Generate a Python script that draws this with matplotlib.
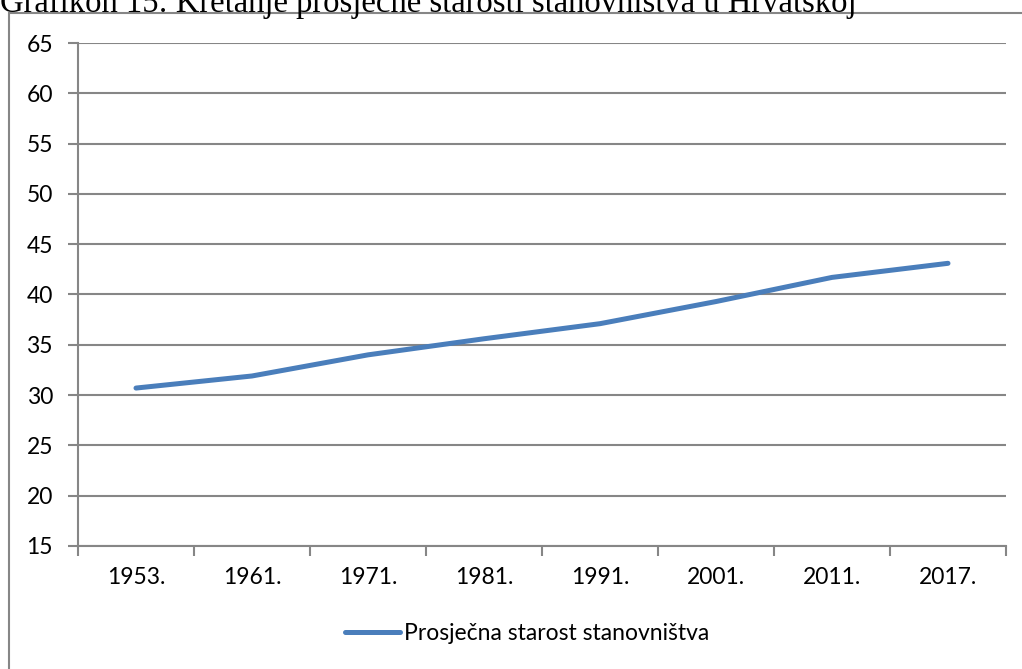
import matplotlib.pyplot as plt
import numpy as np
from matplotlib.patches import Rectangle

godine = ['1953.', '1961.', '1971.', '1981.', '1991.', '2001.', '2011.', '2017.']
starost = [30.7, 31.9, 34.0, 35.6, 37.1, 39.3, 41.7, 43.1]
y_ticks = [15, 20, 25, 30, 35, 40, 45, 50, 55, 60, 65]

W, H = 1022, 669
gray = '#868686'
blue = '#4a7ebb'

fig = plt.figure(figsize=(W / 100, H / 100), dpi=100)
ax = fig.add_axes([78 / W, 1 - 546 / H, (1006 - 78) / W, (546 - 43) / H])

# vanjski okvir grafikona (desno i dolje izlazi iz slike)
fig.patches.append(Rectangle((9 / W, -0.05), 1.1, 1 - 13 / H + 0.05,
                             transform=fig.transFigure, fill=False,
                             edgecolor=gray, lw=1.5))

x = np.arange(len(godine))
line, = ax.plot(x, starost, color=blue, lw=3.6, solid_capstyle='round',
                solid_joinstyle='round', label='Prosječna starost stanovništva')

ax.set_xlim(-0.5, len(godine) - 0.5)
ax.set_ylim(15, 65)
ax.set_yticks(y_ticks)
ax.set_xticks(np.arange(-0.5, len(godine)))
ax.set_xticklabels([])
ax.set_xticks(x, minor=True)
ax.set_xticklabels(godine, minor=True)

ax.grid(axis='y', color=gray, lw=1.5)
ax.set_axisbelow(True)
for s in ['top', 'right']:
    ax.spines[s].set_visible(False)
for s in ['left', 'bottom']:
    ax.spines[s].set_color(gray)
    ax.spines[s].set_linewidth(1.5)

font = 'Lato'
fs = 16.5
ax.tick_params(axis='y', length=7, width=1.5, color=gray, pad=11,
               labelsize=fs, labelfontfamily=font)
ax.tick_params(axis='x', which='major', length=7, width=1.5, color=gray)
ax.tick_params(axis='x', which='minor', length=0, pad=15,
               labelsize=fs, labelfontfamily=font)

fig.legend(handles=[line], loc='center', bbox_to_anchor=(527 / W, 1 - 634 / H),
           frameon=False, handlelength=2.4, handletextpad=0.15,
           prop={'family': font, 'size': fs})

fig.text(0, 1 - 12 / H,
         'Grafikon 15: Kretanje prosječne starosti stanovništva u Hrvatskoj',
         family='Liberation Serif', fontsize=23.5, va='baseline', ha='left')

fig.savefig('out.png', dpi=100)
